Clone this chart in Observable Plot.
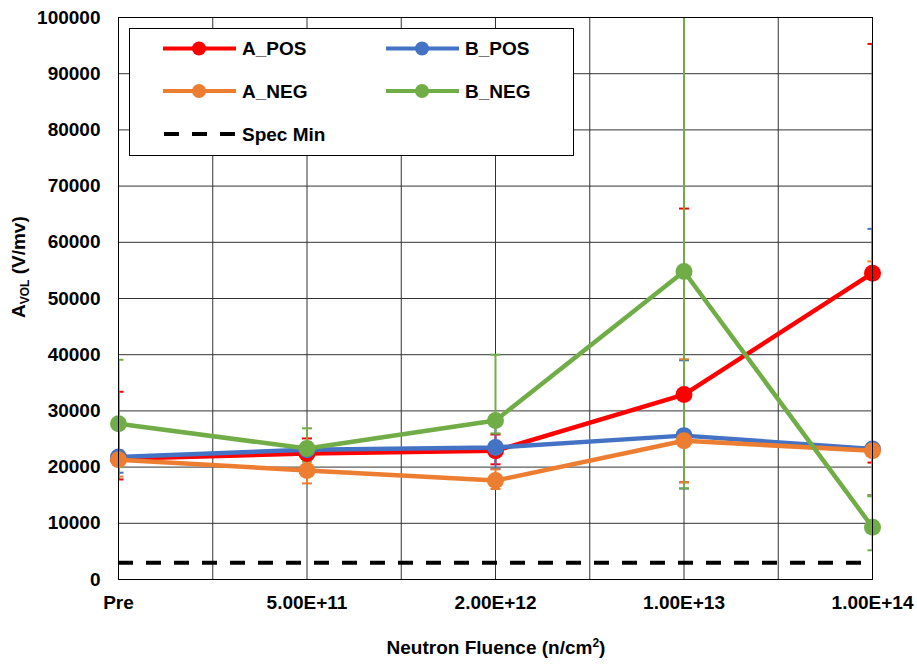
<!DOCTYPE html>
<html><head><meta charset="utf-8">
<script src="https://cdn.jsdelivr.net/npm/d3@7"></script>
<script src="https://cdn.jsdelivr.net/npm/@observablehq/plot@0.6"></script>
<style>body{margin:0;background:#fff} svg{display:block}</style>
</head><body><div id="chart"></div>
<script>
const categories = ["Pre", "5.00E+11", "2.00E+12", "1.00E+13", "1.00E+14"];
const seriesNames = ["A_POS", "B_POS", "A_NEG", "B_NEG"];
const seriesColors = ["#FF0000", "#4472C4", "#ED7D31", "#70AD47"];

const aPos   = [21500, 22400, 22900, 32900, 54500];
const aPosHi = [33400, 25100, 25800, 66000, 95300];
const aPosLo = [17800, 19900, 20500, 17300, 20800];

const bPos   = [21800, 23100, 23500, 25600, 23200];
const bPosHi = [27000, 24400, 27500, 39000, 62400];
const bPosLo = [19000, 21800, 19700, 16200, 15000];

const aNeg   = [21300, 19400, 17600, 24700, 22900];
const aNegHi = [23000, 21000, 19600, 39200, 56600];
const aNegLo = [18300, 17100, 16100, 17300, 14900];

const bNeg   = [27700, 23300, 28300, 54800, 9300];
const bNegHi = [39100, 26900, 40000, 110000, 14800];
const bNegLo = [20000, 21000, 26000, 16200, 5200];

const specMin = 3000;
const yTicks = [0, 10000, 20000, 30000, 40000, 50000, 60000, 70000, 80000, 90000, 100000];
const xGrid = [0, 0.5, 1, 1.5, 2, 2.5, 3, 3.5, 4];

const vals = [aPos, bPos, aNeg, bNeg];
const his = [aPosHi, bPosHi, aNegHi, bNegHi];
const los = [aPosLo, bPosLo, aNegLo, bNegLo];

const perSeries = seriesNames.map((s, i) => categories.map((c, j) => ({
  series: s, idx: j, cat: c, v: vals[i][j], hi: his[i][j], lo: los[i][j]
})));

const cap = {draw(ctx) { ctx.moveTo(-5, 0); ctx.lineTo(5, 0); }};

const errMarks = perSeries.flatMap((d, i) => [
  Plot.ruleX(d, {x: "idx", y1: "lo", y2: "hi", stroke: seriesColors[i], strokeWidth: 2, clip: true}),
  Plot.dot(d, {x: "idx", y: "hi", symbol: cap, stroke: seriesColors[i], strokeWidth: 2, fill: "none", clip: true}),
  Plot.dot(d, {x: "idx", y: "lo", symbol: cap, stroke: seriesColors[i], strokeWidth: 2, fill: "none", clip: true})
]);
const lineMarks = perSeries.flatMap((d, i) => [
  Plot.line(d, {x: "idx", y: "v", stroke: seriesColors[i], strokeWidth: 4.5}),
  Plot.dot(d, {x: "idx", y: "v", r: 8.5, fill: seriesColors[i], stroke: "none"})
]);

const W = 917, H = 664;
const chart = Plot.plot({
  width: W, height: H,
  marginLeft: 118, marginRight: 45, marginTop: 17, marginBottom: 85,
  style: {fontFamily: "'Liberation Sans', Arial, sans-serif", fontSize: "19px", fontWeight: "bold", color: "#000", background: "#fff"},
  x: {domain: [0, 4]},
  y: {domain: [0, 100000]},
  marks: [
    Plot.gridY(yTicks, {stroke: "#333", strokeOpacity: 1}),
    Plot.gridX(xGrid, {stroke: "#333", strokeOpacity: 1}),
    ...errMarks,
    ...lineMarks,
    Plot.ruleY([specMin], {stroke: "#000", strokeWidth: 4, strokeDasharray: "15 13"}),
    Plot.frame({stroke: "#000"}),
    Plot.axisX([0, 1, 2, 3, 4], {tickFormat: i => categories[i], tickSize: 0, tickPadding: 16, label: null}),
    Plot.axisY(yTicks, {tickFormat: d => String(d), tickSize: 0, tickPadding: 18, label: null})
  ]
});
document.getElementById("chart").appendChild(chart);

const svg = d3.select(chart);
const font = "'Liberation Sans', Arial, sans-serif";

// Y label
const yl = svg.append("text")
  .attr("transform", "translate(25,318) rotate(-90)")
  .attr("text-anchor", "start")
  .attr("font-family", font).attr("font-size", 19).attr("font-weight", "bold").attr("fill", "#000");
yl.append("tspan").text("A");
yl.append("tspan").attr("font-size", 12).attr("dy", 4).text("VOL");
yl.append("tspan").attr("dy", -4).text(" (V/mv)");

// X label
const xl = svg.append("text")
  .attr("x", 496).attr("y", 654).attr("text-anchor", "middle")
  .attr("font-family", font).attr("font-size", 19).attr("font-weight", "bold").attr("fill", "#000");
xl.append("tspan").text("Neutron Fluence (n/cm");
xl.append("tspan").attr("font-size", 12).attr("dy", -7).text("2");
xl.append("tspan").attr("dy", 7).text(")");

// Legend
const lg = svg.append("g").attr("text-anchor", "start");
lg.append("rect").attr("x", 129.5).attr("y", 28.5).attr("width", 444).attr("height", 127)
  .attr("fill", "#fff").attr("stroke", "#000").attr("stroke-width", 1);
const legendItems = [
  {name: seriesNames[0], color: seriesColors[0], col: 0, row: 0},
  {name: seriesNames[1], color: seriesColors[1], col: 1, row: 0},
  {name: seriesNames[2], color: seriesColors[2], col: 0, row: 1},
  {name: seriesNames[3], color: seriesColors[3], col: 1, row: 1},
  {name: "Spec Min", color: "#000", col: 0, row: 2, dashed: true}
];
const colX = [163, 386], rowY = [48.5, 91, 134];
for (const it of legendItems) {
  const x0 = colX[it.col], y0 = rowY[it.row];
  const ln = lg.append("line").attr("x1", x0).attr("x2", x0 + 73).attr("y1", y0).attr("y2", y0)
    .attr("stroke", it.color).attr("stroke-width", 4);
  if (it.dashed) ln.attr("stroke-dasharray", "15 13").attr("stroke-dashoffset", -1);
  else lg.append("circle").attr("cx", x0 + 36).attr("cy", y0).attr("r", 7).attr("fill", it.color);
  lg.append("text").attr("x", x0 + 79).attr("y", y0 + 6.5).attr("text-anchor", "start")
    .attr("font-family", font).attr("font-size", 19).attr("font-weight", "bold").attr("fill", "#000")
    .text(it.name);
}
</script>
</body></html>
